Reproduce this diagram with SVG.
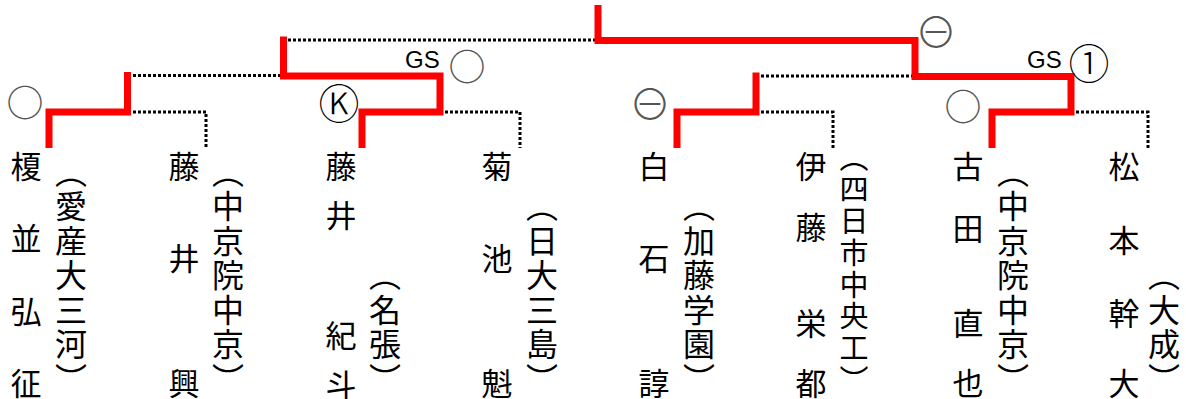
<svg xmlns="http://www.w3.org/2000/svg" width="1186" height="399" viewBox="0 0 1186 399">
<style>
.win{fill:none;stroke:#ff0000;stroke-width:7;stroke-linejoin:miter;stroke-linecap:butt}
.lose{fill:none;stroke:#000;stroke-width:3;stroke-dasharray:3 2}
.nm{font-family:"Noto Sans CJK JP","Noto Sans CJK SC",sans-serif;font-size:31px;fill:#000;writing-mode:vertical-rl}
.sc{font-family:"Noto Sans CJK JP","Noto Sans CJK SC",sans-serif;font-size:32px;letter-spacing:2.5px;fill:#000;writing-mode:vertical-rl}
.sc2{font-family:"Noto Sans CJK JP","Noto Sans CJK SC",sans-serif;font-size:29px;letter-spacing:2.75px;fill:#000;writing-mode:vertical-rl}
.mk{font-family:"Noto Sans CJK JP","DejaVu Sans",sans-serif;font-size:37px;fill:#555;text-anchor:middle;dominant-baseline:central}
.mm{font-family:"Noto Sans CJK JP","DejaVu Sans",sans-serif;font-weight:300;font-size:42px;fill:#555;text-anchor:middle;dominant-baseline:central}
.mkb{font-family:"Noto Sans CJK JP","DejaVu Sans",sans-serif;font-weight:300;font-size:41px;fill:#000;text-anchor:middle;dominant-baseline:central}
.gs{font-family:"Liberation Sans",Arial,sans-serif;font-size:24px;fill:#000}
</style>
<g id="connectors">
<path class="lose" d="M128 75.5 H283"/>
<path class="lose" d="M128 112 H206 V148"/>
<path class="lose" d="M283 40 H597"/>
<path class="lose" d="M440 112 H520 V148"/>
<path class="lose" d="M756 76 H915"/>
<path class="lose" d="M756 112 H833 V148"/>
<path class="lose" d="M1071 112 H1148 V148"/>
<path class="win" d="M49 148 V112 H127.5 V72"/>
<path class="win" d="M362 148 V112 H440 V76 H283.5 V36.5"/>
<path class="win" d="M677 148 V112 H756 V72.5"/>
<path class="win" d="M992 148 V112 H1071 V76.5 H915 V40.5 H598 V5"/>
</g>
<g id="marks">
<text class="mk" x="25" y="101">○</text>
<text class="mkb" x="339" y="101">Ⓚ</text>
<text class="gs" x="405" y="68">GS</text>
<text class="mk" x="467" y="65">○</text>
<text class="mm" x="936" y="29">⊖</text>
<text class="mm" x="650" y="101">⊖</text>
<text class="mk" x="963" y="105">○</text>
<text class="gs" x="1027" y="68">GS</text>
<text class="mkb" x="1089" y="61">①</text>
</g>
<g id="p1"><text class="nm" x="26" y="150.5 223 295.5 367.5">榎並弘征</text><text class="sc" x="71" y="155.5">（愛産大三河）</text></g>
<g id="p2"><text class="nm" x="184" y="150.5 242.5 367.5">藤井興</text><text class="sc" x="228" y="155.5">（中京院中京）</text></g>
<g id="p3"><text class="nm" x="341" y="150.5 199.5 319.5 368.5">藤井紀斗</text><text class="sc" x="385" y="259">（名張）</text></g>
<g id="p4"><text class="nm" x="497" y="150.5 242.5 367.5">菊池魁</text><text class="sc" x="542" y="190">（日大三島）</text></g>
<g id="p5"><text class="nm" x="654" y="150.5 242.5 367.5">白石諄</text><text class="sc" x="699" y="190">（加藤学園）</text></g>
<g id="p6"><text class="nm" x="811" y="150.5 211.5 307.5 367.5">伊藤栄都</text><text class="sc2" x="854" y="143">（四日市中央工）</text></g>
<g id="p7"><text class="nm" x="968" y="150.5 212.5 307.5 367.5">古田直也</text><text class="sc" x="1013" y="155.5">（中京院中京）</text></g>
<g id="p8"><text class="nm" x="1124" y="150.5 224.5 297.5 367.5">松本幹大</text><text class="sc" x="1164" y="259">（大成）</text></g>
</svg>
